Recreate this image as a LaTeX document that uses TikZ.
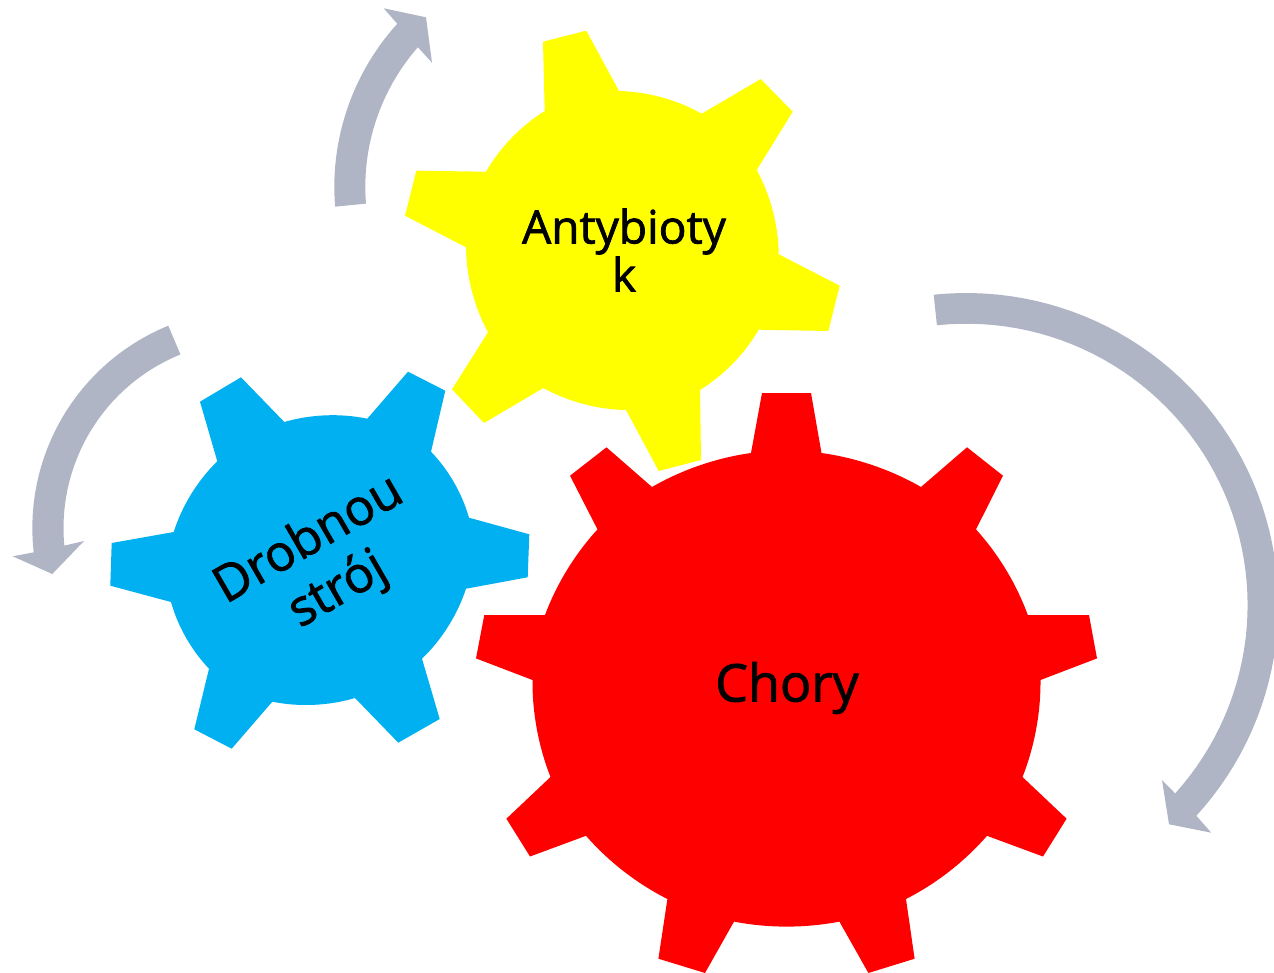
\documentclass[tikz,border=0pt]{standalone}
\usepackage{fontspec}
\newfontfamily\labelfont{Open Sans}[FakeBold=1.6]
\definecolor{gearred}{HTML}{FF0000}
\definecolor{gearyellow}{HTML}{FFFF00}
\definecolor{gearblue}{HTML}{00B0F0}
\definecolor{cyclegray}{HTML}{B0B5C6}
\tikzset{
  gearshape/.style={draw=none},
  cyclearrow/.style={fill=cyclegray,draw=none},
  rim/.style={bend left=#1,looseness=0.85},
  gearlabel/.style={text=black,align=center,inner sep=0pt}
}
\begin{document}
\begin{tikzpicture}[x=1pt,y=-1pt]
\useasboundingbox (0,0) rectangle (1274,973);
\clip (0,0) rectangle (1274,973);
% cycle arrows
\fill[cyclearrow] plot[domain=96:-42.5,samples=60] ({966.3+312*cos(\x)},{605-312*sin(\x)})
  -- (1211.3,832.7) -- (1169,824.3) -- (1162,780) -- (1176,794.3)
  -- plot[domain=-42:96,samples=60] ({966.3+281.3*cos(\x)},{605-281.3*sin(\x)}) -- cycle;
\fill[cyclearrow] plot[domain=184.65:137.8,samples=30] ({577.3+243*cos(\x)},{187-243*sin(\x)})
  -- (383.7,8.3) -- (426,17.3) -- (432,62.7) -- (418.3,47.7)
  -- plot[domain=138.7:184.5,samples=30] ({577.3+212*cos(\x)},{187-212*sin(\x)}) -- cycle;
\fill[cyclearrow] plot[domain=112.2:186.4,samples=30] ({250.8+218.5*cos(\x)},{528-218.5*sin(\x)})
  -- (12.7,556.3) -- (52.3,574) -- (84,541) -- (64,545.7)
  -- plot[domain=185.4:112.06,samples=30] ({250.8+187.3*cos(\x)},{528-187.3*sin(\x)}) -- cycle;
% red gear
\fill[gearred,gearshape] (762,393) -- (811,393) -- (821.5,453) to[rim=11] (921,487) -- (967,447.3) -- (1003,475.7) -- (976,529.4)
  to[rim=11] (1027.8,615) -- (1089,615) -- (1097,658.4) -- (1040.5,680)
  to[rim=11] (1022.5,777) -- (1066.6,818.7) -- (1043,856.5) -- (987,835.8)
  to[rim=11] (906,899) -- (914.6,958.7) -- (868.4,973) -- (839.4,921.6)
  to[rim=11] (734,921.6) -- (705,973) -- (658.4,958.7) -- (667.4,899)
  to[rim=11] (586,835.8) -- (530,856.5) -- (506.4,818.7) -- (550.5,777)
  to[rim=11] (532.5,680) -- (476,658.4) -- (484.3,615) -- (545,615)
  to[rim=11] (597.5,529.4) -- (570,475.7) -- (606.5,447.3) -- (652,487)
  to[rim=11] (751,453) -- cycle;
% yellow gear
\fill[gearyellow,gearshape] (543,41.7) -- (586.3,30.7) -- (619,91) to[rim=14] (701.7,113.7) -- (760.7,79) -- (792.7,111.7) -- (756.7,170)
  to[rim=14] (778.7,254.3) -- (839.7,285.7) -- (828.3,331) -- (758.7,329.7)
  to[rim=14] (700,390) -- (701,460) -- (658.7,471) -- (626,410)
  to[rim=14] (543.3,388) -- (484,423) -- (452,389.3) -- (488,332.3)
  to[rim=14] (466,247.3) -- (405,215.7) -- (416.3,170.7) -- (486,171.7)
  to[rim=14] (544.7,111) -- cycle;
% blue gear
\fill[gearblue,gearshape] (200,401.7) -- (241,377.3) -- (284.3,422) to[rim=14] (367.3,418.7) -- (408,371.7) -- (445.3,390.7) -- (431,451.7)
  to[rim=14] (469,517.7) -- (529.3,534.3) -- (527.7,577.3) -- (466,588.7)
  to[rim=14] (422,658.7) -- (439.7,719) -- (398.3,742.7) -- (355,698)
  to[rim=14] (272.3,701.7) -- (231.7,748.7) -- (194.3,729.3) -- (209,668.7)
  to[rim=14] (171,602) -- (110.3,585.7) -- (111.7,543) -- (173.7,532)
  to[rim=14] (217.3,461.3) -- cycle;
% labels
\node[gearlabel,font=\labelfont\fontsize{46}{48}\selectfont] (antybiotyk) at (624,250) {Antybioty\\k};
\node[gearlabel,font=\labelfont\fontsize{50}{58}\selectfont,rotate=30] (drobnoustroj) at (324,566) {Drobnou\\strój};
\node[gearlabel,font=\labelfont\fontsize{52}{55}\selectfont] (chory) at (787,688) {Chory};
\end{tikzpicture}
\end{document}
